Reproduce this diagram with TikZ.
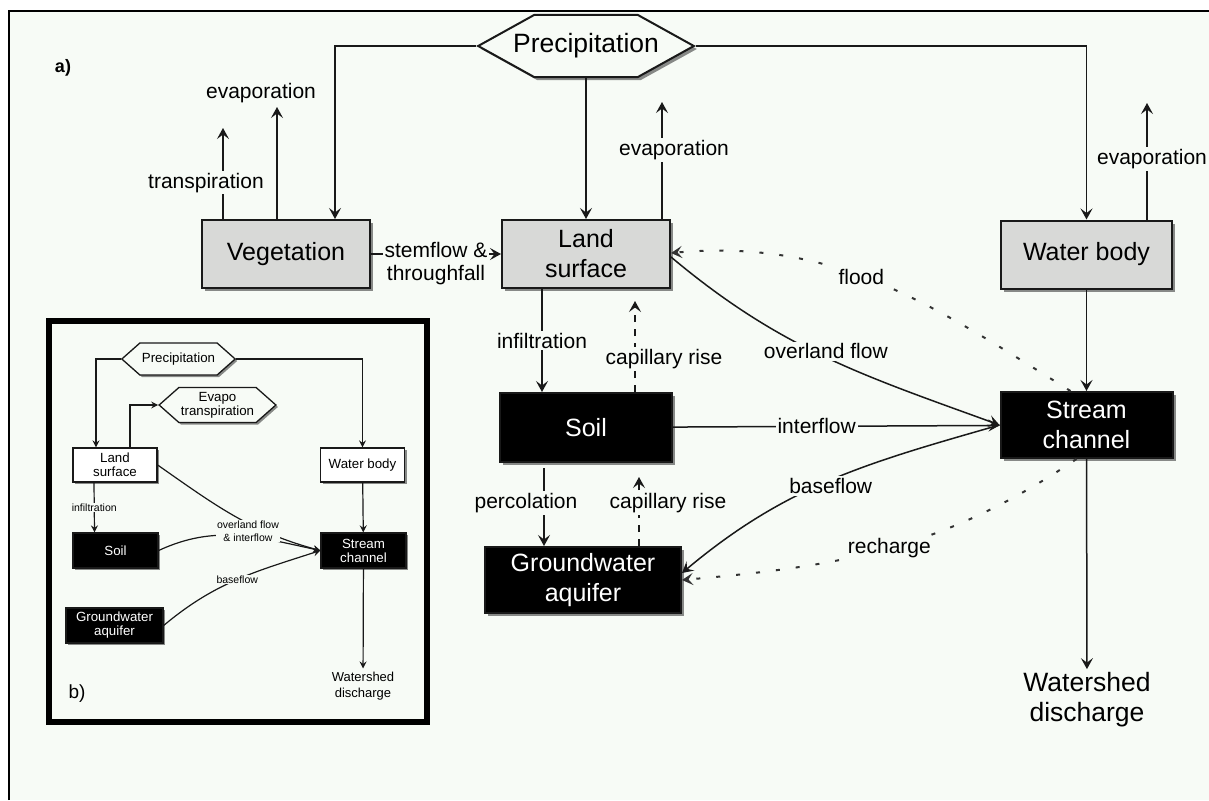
\documentclass[tikz,border=0pt]{standalone}
\usepackage{fontspec}
\setmainfont{Liberation Sans}
\usetikzlibrary{arrows.meta,shapes.symbols,shadows}

\definecolor{paper}{RGB}{247,251,246}
\definecolor{boxgray}{RGB}{216,217,215}
\definecolor{ink}{RGB}{25,25,25}

\tikzset{
  box/.style={draw=ink, line width=2pt, fill=boxgray, minimum width=168pt, minimum height=68pt,
    align=center, font=\fontsize{25}{30}\selectfont,
    drop shadow={shadow xshift=3pt, shadow yshift=-3pt, fill=black, opacity=.45}},
  darkbox/.style={box, fill=black, text=white},
  hexa/.style={shape=signal, signal to=east and west, signal pointer angle=58, draw=ink, line width=2pt,
    fill=paper, inner xsep=-21pt, minimum height=62pt, font=\fontsize{26.5}{30}\selectfont,
    drop shadow={shadow xshift=3pt, shadow yshift=-3pt, fill=black, opacity=.45}},
  lbl/.style={fill=paper, inner sep=2pt, font=\fontsize{21}{23}\selectfont},
  arr/.style={->, line width=1.5pt, draw=ink},
  capdash/.style={arr, dash pattern=on 7pt off 7pt},
  dotflow/.style={->, line width=2pt, draw=black!80, dash pattern=on 4pt off 16pt},
  % inset b)
  ibox/.style={draw=ink, line width=1.3pt, fill=white, minimum width=84pt, minimum height=34pt,
    align=center, font=\fontsize{13.3}{14}\selectfont,
    drop shadow={shadow xshift=2pt, shadow yshift=-2pt, fill=black, opacity=.45}},
  idark/.style={ibox, fill=black, text=white, minimum width=85pt, minimum height=35pt},
  ihexa/.style={shape=signal, signal to=east and west, signal pointer angle=83, draw=ink, line width=1.3pt,
    fill=paper, inner xsep=2pt, minimum height=32pt, align=center, font=\fontsize{13.3}{14}\selectfont,
    drop shadow={shadow xshift=2pt, shadow yshift=-2pt, fill=black, opacity=.45}},
  ilbl/.style={fill=paper, inner sep=1pt, font=\fontsize{10.5}{13}\selectfont},
  iarr/.style={-{Stealth[length=7pt,width=7pt,inset=2.5pt]}, line width=1.2pt, draw=ink}
}

\begin{document}
\begin{tikzpicture}[x=1pt, y=-1pt, >={Stealth[length=11pt,width=12pt,inset=4.5pt]}]
    % Page and frame
    \useasboundingbox (0,0) rectangle (1209,800);
    \fill[white] (0,0) rectangle (1209,800);
    \fill[paper] (9,11) rectangle (1209,800);
    \draw[line width=2.5pt] (9,800) -- (9,11) -- (1209,11);
    \node[font=\bfseries\fontsize{18}{20}\selectfont] (alab) at (63,68) {a)};

    % Stores
    \node[hexa] (prec) at (586,46) {Precipitation};
    \node[box] (veg) at (286,254) {Vegetation};
    \node[box] (land) at (586,254) {Land\\surface};
    \node[box, minimum width=171pt] (water) at (1086.5,254.5) {Water body};
    \node[darkbox, minimum width=172pt, minimum height=69pt] (soil) at (586,427.5) {Soil};
    \node[darkbox, minimum width=172pt, minimum height=66pt] (stream) at (1086.5,425) {Stream\\channel};
    \node[darkbox, minimum width=196pt, minimum height=66pt] (gw) at (583,580) {Groundwater\\aquifer};
    \node[align=center, font=\fontsize{26.5}{30}\selectfont] (shed) at (1087,700) {Watershed\\discharge};

    % Free ends of the losses
    \coordinate (tptip) at (223,128);
    \coordinate (vetip) at (277,107);
    \coordinate (letip) at (662,102);
    \coordinate (wetip) at (1147,103);

    % Precipitation
    \draw[arr] (prec.west) -| ([xshift=49pt]veg.north);
    \draw[arr] (prec.south) -- (land.north);
    \draw[arr] (prec.east) -| (water.north);

    % Vegetation
    \draw[arr] (veg.north -| tptip) -- node[lbl, pos=0.4, xshift=-17pt] {transpiration} (tptip);
    \draw[arr] (veg.north -| vetip) -- (vetip) node[above, font=\fontsize{21}{23}\selectfont, xshift=-16pt] {evaporation};
    \draw[arr] (veg) -- node[lbl, align=center, yshift=-9.5pt] {stemflow \&\\throughfall} (land);

    % Land surface
    \draw[arr] (land.north -| letip) -- node[lbl, pos=0.59, xshift=12pt] {evaporation} (letip);
    \draw[arr] ([xshift=-44pt]land.south) -- node[lbl] {infiltration} ([xshift=-44pt]soil.north);
    \draw[capdash, shorten >=12pt] ([xshift=49pt]soil.north) -- node[lbl, pos=0.32, xshift=29pt] {capillary rise} ([xshift=49pt]land.south);

    % Water body
    \draw[arr] (water.north -| wetip) -- node[lbl, pos=0.52, xshift=5pt] {evaporation} (wetip);
    \draw[arr] (water) -- (stream);
    \draw[arr] (stream) -- (shed);

    % Soil and groundwater
    \draw[arr, shorten <=5pt] ([xshift=-42pt]soil.south) -- node[lbl, pos=0.48, xshift=-18pt] {percolation} ([xshift=-42pt]soil.south |- gw.north);
    \draw[capdash, shorten >=14pt] ([xshift=53pt]soil.south |- gw.north) -- node[lbl, pos=0.52, xshift=29pt] {capillary rise} ([xshift=53pt]soil.south);
    \draw[arr] (soil) -- node[lbl, pos=0.44] {interflow} (stream);

    % Exchanges with the stream
    \draw[arr] ([yshift=-3pt]land.east) to[out=-40, in=160] node[lbl, yshift=6pt] {overland flow} (stream.west);
    \draw[arr] (stream.west) to[out=196, in=40] node[lbl, yshift=-6pt] {baseflow} ([yshift=7pt]gw.east);
    \draw[dotflow] ([xshift=-16pt]stream.north) to[out=148, in=5] node[lbl, pos=0.55] {flood} ([yshift=1pt]land.east);
    \draw[dotflow] ([xshift=-10pt]stream.south) to[out=214, in=5] node[lbl] {recharge} (gw.east);

    % Inset b)
    \draw[line width=5.5pt] (49,321) rectangle (427,722);
    \node[ihexa] (iprec) at (178.5,359) {Precipitation};
    \node[ihexa, minimum height=35pt] (ievap) at (217.5,405) {Evapo\\transpiration};
    \node[ibox] (iland) at (115,465) {Land\\surface};
    \node[ibox] (iwater) at (362.5,465) {Water body};
    \node[idark] (isoil) at (115.5,550.5) {Soil};
    \node[idark] (istream) at (363.5,550.5) {Stream\\channel};
    \node[idark, minimum width=97pt] (igw) at (114.5,625.5) {Groundwater\\aquifer};
    \node[align=center, font=\fontsize{13}{16}\selectfont] (ished) at (363,686) {Watershed\\discharge};
    \node[font=\fontsize{19}{20}\selectfont] (blab) at (77,694) {b)};

    \draw[iarr] (iprec.west) -| ([xshift=-19pt]iland.north);
    \draw[iarr] (iprec.east) -| (iwater.north);
    \draw[iarr] ([xshift=15pt]iland.north) |- (ievap.west);
    \draw[iarr] ([xshift=-21pt]iland.south) -- node[ilbl] {infiltration} ([xshift=-21pt]isoil.north);
    \draw[iarr] (iwater) -- (istream);
    \draw[iarr] (istream) -- (ished);
    \draw[iarr] (iland.east) to[out=-35, in=165] (istream.west);
    \draw[iarr] (isoil.east) to[out=25, in=168] (istream.west);
    \node[ilbl, align=center] (iflow) at (248,531) {overland flow\\\& interflow};
    \draw[iarr] (igw.east) to[out=40, in=198] node[ilbl] {baseflow} (istream.west);
\end{tikzpicture}
\end{document}
